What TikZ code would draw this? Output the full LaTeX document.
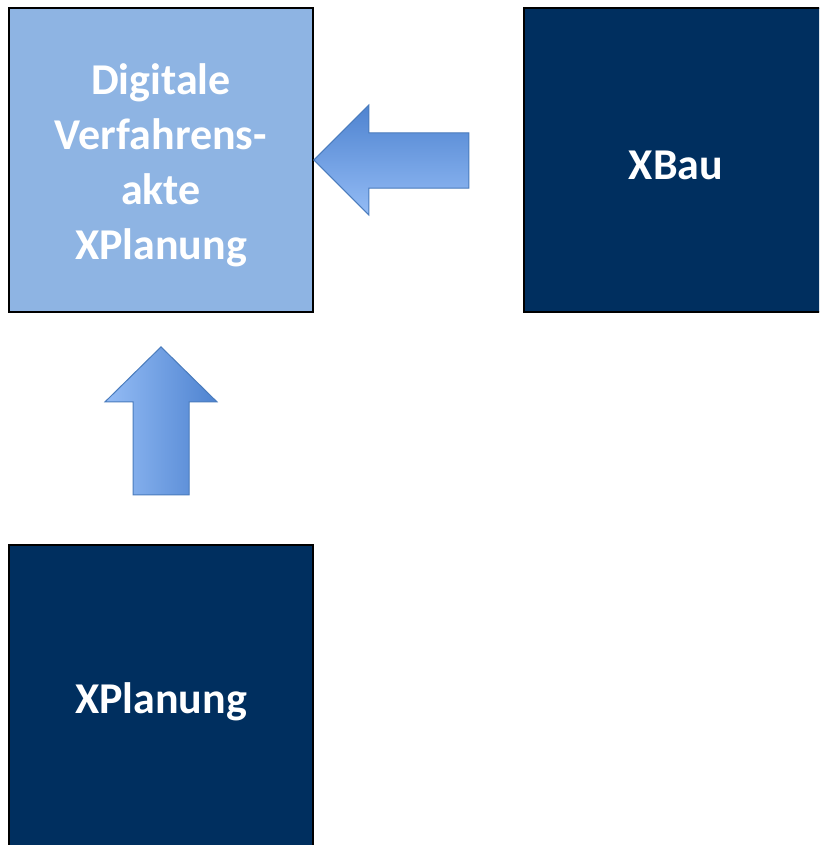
\documentclass[tikz,border=0pt]{standalone}
\usepackage{fontspec}
\setmainfont{Carlito}
\definecolor{lightbox}{HTML}{8EB4E3}
\definecolor{darkbox}{HTML}{002F5F}
\definecolor{arrdark}{HTML}{4E83D0}
\definecolor{arrlight}{HTML}{94BCF5}
\definecolor{arredge}{HTML}{4A7CBD}
\begin{document}
\begin{tikzpicture}[x=1pt,y=-1pt,
  box/.style={draw=black, line width=1.8pt, minimum width=304, minimum height=304,
    inner sep=0pt},
  boxtext/.style={inner sep=0pt, align=center, text=white,
    font=\bfseries\fontsize{44}{55}\selectfont},
  blockarrow/.style={draw=arredge, line width=1pt, line join=miter},
  arrshadow/.style={fill=black, opacity=0.18, draw=none}]
\useasboundingbox (0,0) rectangle (819,845);
\clip (0,0) rectangle (819,845);
\fill[white] (0,0) rectangle (819,845);
\node[box, fill=lightbox] (dva) at (161,160) {};
\node[boxtext] (dvatext) at ([yshift=-5pt]dva.center) {Digitale\\Verfahrens-\\akte\\XPlanung};
\node[box, fill=darkbox] (xbau) at (676,160) {};
\node[boxtext] (xbautext) at ([yshift=-5pt]xbau.center) {XBau};
\node[box, fill=darkbox] (xplan) at (161,697) {};
\node[boxtext] (xplantext) at ([yshift=-5pt]xplan.center) {XPlanung};
% left arrow: from XBau towards the Verfahrensakte
\coordinate (ltip) at (dva.east);
\fill[arrshadow, shift={(2,4)}] (ltip) -- ++(55,-55) -- ++(0,28) -- ++(100,0) -- ++(0,55) -- ++(-100,0) -- ++(0,27) -- cycle;
\shade[top color=arrdark, bottom color=arrlight] (ltip) -- ++(55,-55) -- ++(0,28) -- ++(100,0) -- ++(0,55) -- ++(-100,0) -- ++(0,27) -- cycle;
\draw[blockarrow] (ltip) -- ++(55,-55) -- ++(0,28) -- ++(100,0) -- ++(0,55) -- ++(-100,0) -- ++(0,27) -- cycle;
% up arrow: from XPlanung towards the Verfahrensakte
\coordinate (utip) at ([yshift=-34pt]dva.south);
\fill[arrshadow, shift={(2,4)}] (utip) -- ++(56,55) -- ++(-28,0) -- ++(0,93) -- ++(-56,0) -- ++(0,-93) -- ++(-28,0) -- cycle;
\shade[left color=arrlight, right color=arrdark] (utip) -- ++(56,55) -- ++(-28,0) -- ++(0,93) -- ++(-56,0) -- ++(0,-93) -- ++(-28,0) -- cycle;
\draw[blockarrow] (utip) -- ++(56,55) -- ++(-28,0) -- ++(0,93) -- ++(-56,0) -- ++(0,-93) -- ++(-28,0) -- cycle;
\end{tikzpicture}
\end{document}
